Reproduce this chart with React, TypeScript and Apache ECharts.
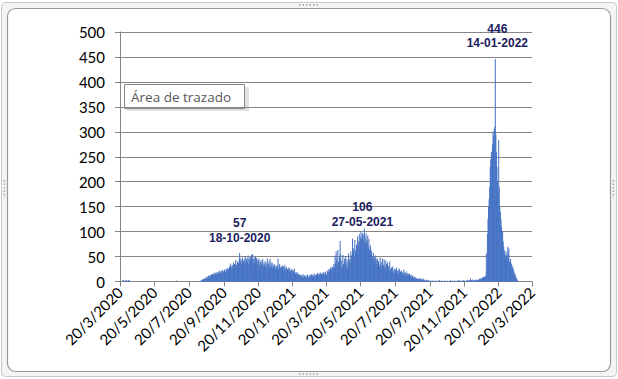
import React, { useEffect, useRef } from "react";
import * as echarts from "echarts";

// Daily values, one array per month (20/3/2020 .. 20/3/2022)
const mar2020 = [0, 0, 0, 0, 0, 2, 3, 1, 0, 2, 0, 3];
const apr2020 = [2, 0, 1, 3, 0, 0, 2, 0, 0, 0, 0, 0, 0, 0, 0, 0, 0, 0, 0, 0, 0, 0, 0, 0, 0, 0, 0, 0, 0, 0];
const may2020 = [0, 0, 0, 0, 0, 0, 0, 0, 0, 0, 0, 0, 0, 0, 0, 0, 0, 0, 0, 0, 0, 0, 0, 0, 0, 0, 0, 0, 0, 0, 0];
const jun2020 = [0, 0, 0, 0, 0, 0, 0, 0, 0, 0, 0, 0, 0, 0, 0, 0, 0, 0, 0, 0, 0, 0, 0, 0, 0, 0, 0, 2, 0, 0];
const jul2020 = [0, 0, 0, 0, 0, 0, 0, 0, 0, 0, 0, 0, 0, 0, 0, 0, 0, 0, 0, 0, 0, 0, 0, 0, 0, 0, 0, 0, 0, 0, 0];
const aug2020 = [0, 0, 0, 0, 0, 0, 0, 0, 0, 1, 3, 2, 4, 3, 5, 4, 6, 5, 8, 7, 10, 6, 9, 12, 8, 11, 13, 10, 14, 12, 15];
const sep2020 = [13, 16, 12, 18, 15, 17, 14, 19, 16, 20, 15, 18, 22, 17, 19, 21, 16, 23, 20, 18, 24, 21, 19, 25, 22, 27, 23, 26, 24, 30];
const oct2020 = [28, 36, 25, 30, 33, 27, 38, 31, 35, 29, 43, 34, 32, 40, 30, 37, 44, 57, 39, 46, 35, 42, 48, 33, 41, 45, 38, 50, 36, 44, 47];
const nov2020 = [40, 52, 34, 46, 43, 49, 38, 53, 42, 55, 45, 36, 48, 41, 50, 39, 47, 44, 35, 42, 46, 31, 40, 37, 43, 33, 39, 45, 30, 36];
const dec2020 = [34, 41, 28, 37, 32, 46, 29, 35, 40, 27, 45, 33, 30, 38, 26, 36, 31, 28, 34, 25, 30, 27, 33, 29, 46, 24, 31, 35, 28, 26, 30];
const jan2021 = [28, 32, 24, 30, 26, 33, 22, 27, 29, 23, 25, 20, 28, 24, 26, 21, 19, 23, 25, 18, 22, 20, 26, 17, 15, 19, 16, 14, 18, 13, 15];
const feb2021 = [12, 14, 10, 13, 9, 11, 15, 8, 12, 10, 13, 9, 7, 11, 14, 10, 8, 12, 9, 13, 11, 15, 10, 12, 14, 9, 16, 11];
const mar2021 = [13, 10, 15, 12, 17, 11, 14, 16, 12, 18, 13, 15, 11, 17, 14, 19, 12, 16, 20, 15, 13, 18, 22, 17, 25, 20, 23, 28, 21, 26, 30];
const apr2021 = [24, 29, 35, 27, 52, 38, 60, 45, 33, 63, 40, 36, 48, 81, 55, 30, 42, 28, 53, 35, 25, 46, 38, 51, 32, 44, 27, 40, 56, 34];
const may2021 = [45, 38, 60, 52, 41, 86, 58, 66, 49, 83, 62, 55, 74, 68, 90, 72, 80, 95, 78, 88, 100, 85, 92, 97, 82, 94, 106, 89, 76, 96, 84];
const jun2021 = [78, 92, 70, 85, 64, 58, 72, 55, 62, 50, 45, 57, 40, 48, 38, 52, 44, 35, 46, 32, 41, 36, 30, 48, 34, 28, 39, 46, 27, 33];
const jul2021 = [44, 30, 26, 42, 35, 24, 38, 28, 31, 22, 40, 25, 20, 28, 18, 30, 22, 16, 26, 19, 24, 17, 28, 21, 15, 23, 18, 26, 14, 20, 17];
const aug2021 = [22, 15, 19, 13, 24, 16, 18, 12, 20, 14, 17, 11, 15, 13, 16, 10, 12, 8, 14, 9, 11, 7, 10, 6, 9, 5, 7, 4, 6, 3, 5];
const sep2021 = [6, 4, 7, 3, 5, 2, 4, 3, 6, 2, 3, 1, 2, 4, 1, 2, 3, 1, 2, 0, 1, 2, 1, 0, 2, 1, 1, 0, 2, 1];
const oct2021 = [1, 0, 2, 1, 0, 1, 3, 0, 1, 0, 2, 1, 0, 1, 0, 2, 0, 1, 1, 0, 2, 0, 1, 0, 1, 3, 0, 1, 0, 2, 1];
const nov2021 = [1, 0, 2, 1, 0, 1, 0, 2, 1, 3, 0, 1, 2, 0, 1, 2, 1, 0, 3, 1, 2, 1, 0, 2, 1, 3, 2, 1, 2, 3];
const dec2021 = [6, 2, 3, 2, 4, 1, 3, 2, 3, 2, 4, 3, 2, 3, 4, 3, 5, 6, 4, 7, 5, 8, 6, 9, 7, 10, 8, 12, 56, 20, 95];
const jan2022 = [125, 150, 165, 190, 230, 245, 260, 252, 275, 300, 290, 305, 310, 446, 295, 260, 230, 200, 175, 283, 190, 150, 140, 125, 110, 95, 100, 80, 70, 62, 55];
const feb2022 = [48, 60, 52, 45, 70, 55, 66, 40, 38, 45, 32, 36, 28, 30, 24, 20, 14, 16, 10, 8, 5, 3, 0, 0, 0, 0, 0, 0];
const mar2022 = [0, 0, 0, 0, 0, 0, 0, 0, 0, 0, 0, 0, 0, 0, 0, 0, 0, 0, 0, 0];

const values = [
  ...mar2020, ...apr2020, ...may2020, ...jun2020, ...jul2020, ...aug2020,
  ...sep2020, ...oct2020, ...nov2020, ...dec2020, ...jan2021, ...feb2021,
  ...mar2021, ...apr2021, ...may2021, ...jun2021, ...jul2021, ...aug2021,
  ...sep2021, ...oct2021, ...nov2021, ...dec2021, ...jan2022, ...feb2022, ...mar2022,
];

// Category labels: one per day, d/m/yyyy
const startDate = { y: 2020, m: 2, d: 20 };
const categories: string[] = values.map((_, i) => {
  const dt = new Date(Date.UTC(startDate.y, startDate.m, startDate.d + i));
  return `${dt.getUTCDate()}/${dt.getUTCMonth() + 1}/${dt.getUTCFullYear()}`;
});

// Annotated peaks
const peakDates = ["18/10/2020", "27/5/2021", "14/1/2022"];
const peakValues = [57, 106, 446];
const peakTexts = ["18-10-2020", "27-05-2021", "14-01-2022"];
const peakDistance = [7, -1, 8];
const peakOffsetX = [0, -2, 2];
const peakLineHeight = [15, 15, 14];

const isTick = (_i: number, v: string) => {
  const p = String(v).split("/");
  return p[0] === "20" && Number(p[1]) % 2 === 1;
};

export default function App() {
  const ref = useRef<HTMLDivElement>(null);
  useEffect(() => {
    if (!ref.current) return;
    const chart = echarts.init(ref.current, undefined, { renderer: "svg" });
    chart.setOption({
      animation: false,
      backgroundColor: "#ffffff",
      grid: { left: 120, right: 86, top: 32, bottom: 97.5, containLabel: false },
      graphic: [
        { type: "rect", shape: { x: 1.5, y: 2.5, width: 615, height: 374, r: 4 }, style: { fill: "#f4f4f4", stroke: "#c8c8c8", lineWidth: 1 }, z: -10 },
        { type: "rect", shape: { x: 7.5, y: 8.5, width: 603, height: 363, r: 8 }, style: { fill: "#ffffff", stroke: "#9a9a9a", lineWidth: 1.2 }, z: -9 },
        { type: "line", shape: { x1: 299, y1: 5, x2: 318, y2: 5 }, style: { stroke: "#a0a0a0", lineWidth: 1.5, lineDash: [1.5, 2] }, z: -8 },
        { type: "line", shape: { x1: 299, y1: 374, x2: 318, y2: 374 }, style: { stroke: "#a0a0a0", lineWidth: 1.5, lineDash: [1.5, 2] }, z: -8 },
        { type: "line", shape: { x1: 4.5, y1: 180, x2: 4.5, y2: 198 }, style: { stroke: "#a0a0a0", lineWidth: 1.5, lineDash: [1.5, 2] }, z: -8 },
        { type: "line", shape: { x1: 613.5, y1: 180, x2: 613.5, y2: 198 }, style: { stroke: "#a0a0a0", lineWidth: 1.5, lineDash: [1.5, 2] }, z: -8 },
        {
          type: "group",
          z: 100,
          children: [
            { type: "rect", shape: { x: 127, y: 87, width: 122, height: 24 }, style: { fill: "rgba(0,0,0,0.12)" } },
            { type: "rect", shape: { x: 124.5, y: 84.5, width: 120, height: 24 }, style: { fill: "#ffffff", stroke: "#8a8a8a", lineWidth: 1 } },
            { type: "text", x: 131, y: 96.5, style: { text: "Área de trazado", fill: "#575757", font: "13.5px 'Open Sans'", verticalAlign: "middle" } },
          ],
        },
      ],
      xAxis: {
        type: "category",
        data: categories,
        boundaryGap: false,
        axisLine: { show: true, lineStyle: { color: "#868686", width: 1 } },
        axisTick: { show: true, interval: isTick, length: 5, lineStyle: { color: "#868686" } },
        axisLabel: {
          interval: isTick,
          rotate: 45,
          margin: 8,
          color: "#000000",
          fontFamily: "Lato",
          fontSize: 15,
        },
        splitLine: { show: false },
      },
      yAxis: {
        type: "value",
        min: 0,
        max: 500,
        interval: 50,
        axisLine: { show: true, lineStyle: { color: "#868686", width: 1 } },
        axisTick: { show: true, length: 5, lineStyle: { color: "#868686" } },
        axisLabel: { margin: 15, color: "#000000", fontFamily: "Lato", fontSize: 15 },
        splitLine: { show: true, lineStyle: { color: "#868686", width: 1 } },
      },
      series: [
        {
          type: "bar",
          data: values,
          barWidth: 1,
          itemStyle: { color: "#4472C4" },
          markPoint: {
            symbol: "circle",
            symbolSize: 1,
            itemStyle: { color: "rgba(0,0,0,0)" },
            data: peakDates.map((d, i) => ({
              coord: [d, peakValues[i]],
              value: peakValues[i],
              label: {
                show: true,
                position: "top",
                distance: peakDistance[i],
                offset: [peakOffsetX[i], 0],
                formatter: `${peakValues[i]}\n${peakTexts[i]}`,
                color: "#1b2060",
                fontFamily: "Liberation Sans",
                fontWeight: "bold",
                fontSize: 12,
                lineHeight: peakLineHeight[i],
                align: "center",
              },
            })),
          },
        },
      ],
    });
    return () => chart.dispose();
  }, []);
  return (
    <div
      ref={ref}
      style={{ position: "absolute", left: 0, top: 0, width: 618, height: 379 }}
    />
  );
}
